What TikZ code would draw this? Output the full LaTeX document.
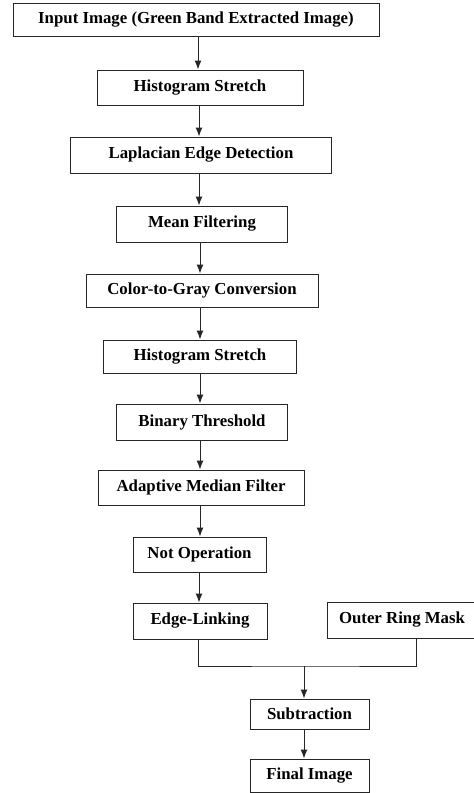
\documentclass[tikz,border=0pt]{standalone}
\usepackage{fontspec}
\setmainfont{Liberation Serif}
\usetikzlibrary{arrows.meta, positioning}

\tikzset{
  stepbox/.style={draw=black!85, line width=1pt, minimum height=34pt, inner sep=0pt,
    font=\fontsize{16.8}{19}\selectfont\bfseries},
  flow/.style={draw=black!85, line width=1pt, -{Latex[length=9pt,width=7pt]}}
}

\begin{document}
\begin{tikzpicture}[x=1pt, y=1pt]
    \useasboundingbox (0,0) rectangle (474,-793);

    % 1. Main column
    \node[stepbox, minimum width=366pt, minimum height=33pt] (input) at (196,-19.5) {Input Image (Green Band Extracted Image)};
    \node[stepbox, minimum width=206pt, minimum height=35pt] (histA) at (200,-87.5) {Histogram Stretch};
    \node[stepbox, minimum width=261pt, minimum height=36pt] (laplace) at (201,-155) {Laplacian Edge Detection};
    \node[stepbox, minimum width=171pt, minimum height=36pt] (mean) at (202,-224) {Mean Filtering};
    \node[stepbox, minimum width=232pt, minimum height=33pt] (gray) at (202,-290.5) {Color-to-Gray Conversion};
    \node[stepbox, minimum width=193pt, minimum height=33pt] (histB) at (200,-356.5) {Histogram Stretch};
    \node[stepbox, minimum width=171pt, minimum height=36pt] (binary) at (202,-422) {Binary Threshold};
    \node[stepbox, minimum width=206pt, minimum height=35pt] (median) at (201,-487.5) {Adaptive Median Filter};
    \node[stepbox, minimum width=133pt, minimum height=35pt] (notop) at (199.5,-554.5) {Not Operation};
    \node[stepbox, minimum width=134pt, minimum height=36pt] (linking) at (200,-621) {Edge-Linking};

    % 2. Side branch and merge
    \node[stepbox, minimum width=150pt, minimum height=36pt] (ring) at (402,-620) {Outer Ring Mask};
    \node[stepbox, minimum width=119pt, minimum height=30pt] (subtract) at (309.5,-714) {Subtraction};
    \node[stepbox, minimum width=119pt, minimum height=33pt] (final) at (309.5,-775.5) {Final Image};

    % 3. Arrows down the column
    \draw[flow] (input.south -| 198,0) -- (histA.north -| 198,0);
    \draw[flow] (histA.south -| 199,0) -- (laplace.north -| 199,0);
    \draw[flow] (laplace.south -| 199,0) -- (mean.north -| 199,0);
    \draw[flow] (mean.south -| 200,0) -- (gray.north -| 200,0);
    \draw[flow] (gray.south -| 200,0) -- (histB.north -| 200,0);
    \draw[flow] (histB.south -| 200,0) -- (binary.north -| 200,0);
    \draw[flow] (binary.south -| 200,0) -- (median.north -| 200,0);
    \draw[flow] (median.south -| 200,0) -- (notop.north -| 200,0);
    \draw[flow] (notop.south -| 199,0) -- (linking.north -| 199,0);

    % 4. Merge into subtraction
    \coordinate (merge) at (304,-666);
    \coordinate (ringfoot) at (416,-638);
    \draw[draw=black!85, line width=1pt] (linking.south -| 198,0) |- (merge) -| (ringfoot);
    \draw[flow] (merge) -- (subtract.north -| merge);
    \draw[flow] (subtract.south -| merge) -- (final.north -| merge);
\end{tikzpicture}
\end{document}
